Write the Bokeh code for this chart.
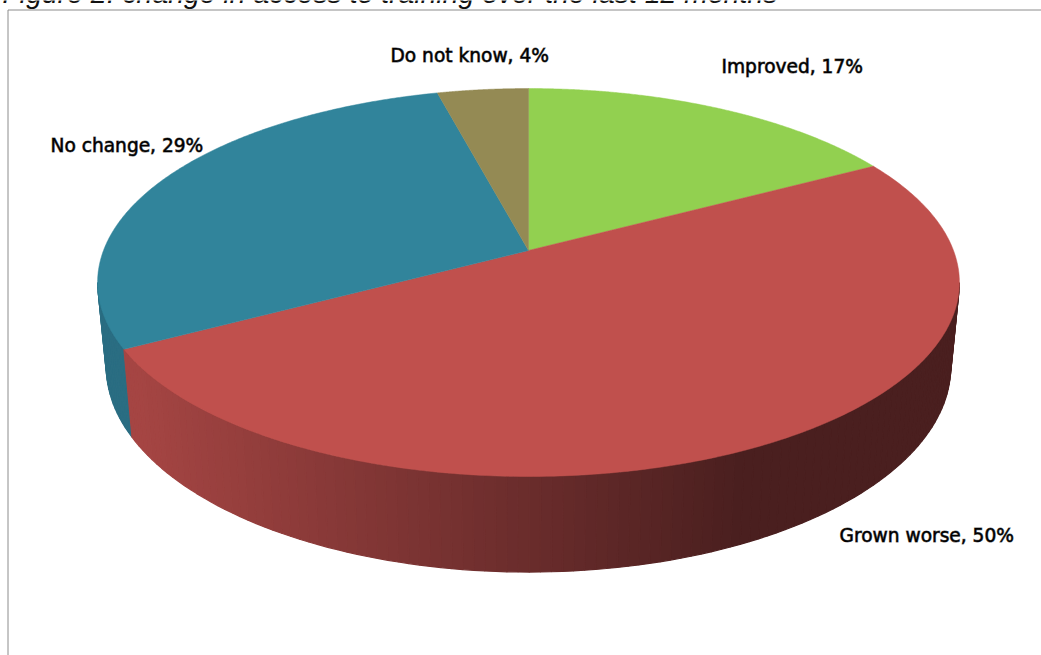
import numpy as np
from bokeh.embed import file_html
from bokeh.models import BoxAnnotation, Range1d
from bokeh.plotting import figure
from bokeh.resources import INLINE
from bokeh.core.properties import value

# Survey shares, clockwise from twelve o'clock
categories = ["Improved", "Grown worse", "No change", "Do not know"]
shares = [17, 50, 29, 4]
top_colors = ["#92D050", "#C0504D", "#31849B", "#948A54"]
wall_left = ["#6F9E3D", "#A54543", "#2A6D82", "#70683F"]
wall_right = ["#3E5722", "#4A1F1F", "#17404C", "#3E3A23"]
title_text = "Figure 2: change in access to training over the last 12 months"

# Tilted-disc projection in page pixels
CX, APEX_Y, RX, RY, TILT = 528.0, 250.0, 425.0, 188.7, 0.165
FLOOR_Y, FLOOR_SX, FLOOR_SY = 332.0, 0.98, 1.06
GRAD_X0, GRAD_X1 = 135.0, 740.0


def project(theta, floor=False):
    u, v = np.sin(theta), -np.cos(theta)
    d = 1 - TILT * v
    if floor:
        return CX + FLOOR_SX * RX * u / d, FLOOR_Y + FLOOR_SY * RY * v / d
    return CX + RX * u / d, APEX_Y + RY * v / d


def mix(a, b, t):
    ca = [int(a[i:i + 2], 16) for i in (1, 3, 5)]
    cb = [int(b[i:i + 2], 16) for i in (1, 3, 5)]
    return "#%02x%02x%02x" % tuple(round(p + (q - p) * t) for p, q in zip(ca, cb))


p = figure(width=1041, height=655, output_backend="svg", toolbar_location=None,
           x_range=Range1d(0, 1041), y_range=Range1d(655, 0), min_border=0,
           outline_line_color=None, background_fill_color="white")
p.axis.visible = False
p.grid.visible = False

p.add_layout(BoxAnnotation(left=7.5, right=1100, top=9.5, bottom=700, fill_alpha=0,
                           line_color="#8C8C8C", line_alpha=1, line_width=1))

edges = 2 * np.pi * np.concatenate([[0], np.cumsum(shares)]) / sum(shares)

# Outer wall: shaded strips on the side facing the viewer only
for i in [3, 2, 0, 1]:
    a, b = edges[i], edges[i + 1]
    n = max(4, int((b - a) * 45))
    ts = np.linspace(a, b, n + 1)
    for t0, t1 in zip(ts[:-1], ts[1:]):
        if -np.cos((t0 + t1) / 2) < TILT:
            continue
        x0, y0 = project(t0)
        x1, y1 = project(t1)
        x2, y2 = project(t1, True)
        x3, y3 = project(t0, True)
        f = np.clip(((x0 + x1) / 2 - GRAD_X0) / (GRAD_X1 - GRAD_X0), 0, 1)
        col = mix(wall_left[i], wall_right[i], f)
        p.patch([x0, x1, x2, x3], [y0, y1, y2, y3], fill_color=col, line_color=col,
                line_width=1.2)

# Top face of each slice
for i, col in enumerate(top_colors):
    ts = np.linspace(edges[i], edges[i + 1], 240)
    x, y = project(ts)
    p.patch(np.r_[CX, x], np.r_[APEX_Y, y], fill_color=col, line_color=col, line_width=0.5)

labels = [f"{c}, {s}%" for c, s in zip(categories, shares)]
label_x = [721, 839, 50, 390]
label_y = [66, 535, 145, 55]
p.text(label_x, label_y, text=labels, text_font=value("DejaVu Sans"), text_font_size="18.6px",
       text_color="#000000", text_outline_color="#00000099", text_align="left",
       text_baseline="middle")

p.text([2], [-8], text=[title_text], text_font=value("Liberation Sans"), text_font_size="28.4px",
       text_font_style="italic", text_color="#111111", text_align="left",
       text_baseline="alphabetic")

open("out.html", "w").write(file_html(p, INLINE))
